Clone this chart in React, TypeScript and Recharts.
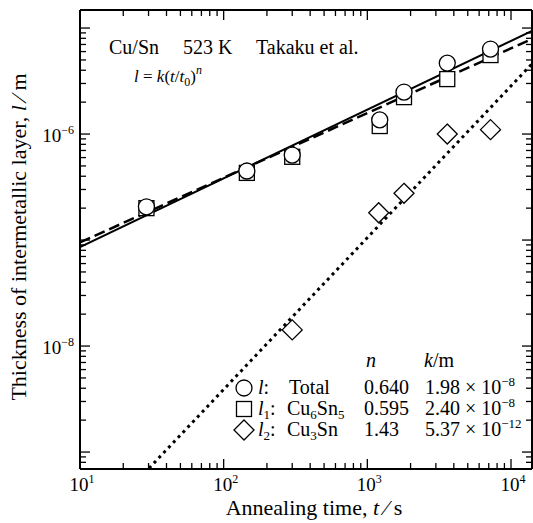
import React from 'react';
import { ComposedChart, Line, Scatter, XAxis, YAxis } from 'recharts';

// annealing times (s) and measured thickness (m)
const times = [29, 145, 300, 1220, 1800, 3600, 7200];
const totalL = [2.06e-7, 4.48e-7, 6.34e-7, 1.36e-6, 2.49e-6, 4.67e-6, 6.34e-6];
const cu6sn5L = [2.0e-7, 4.3e-7, 6.1e-7, 1.19e-6, 2.23e-6, 3.3e-6, 5.56e-6];
const cu3snTimes = [300, 1200, 1800, 3600, 7200];
const cu3snL = [1.42e-8, 1.81e-7, 2.76e-7, 1.0e-6, 1.1e-6];

// fitted power-law lines, end points
const fitTimes = [10, 14000];
const totalFit = [8.6e-8, 9.4e-6];
const cu6sn5Fit = [9.5e-8, 7.9e-6];
const cu3snFitTimes = [28, 14000];
const cu3snFit = [6.3e-10, 4.6e-6];

const xDecades = [10, 100, 1000, 10000];
const yDecades = [1e-9, 1e-8, 1e-7, 1e-6, 1e-5];
const yLabeled = [-8, -6];
const minorSteps = [2, 3, 4, 5, 6, 7, 8, 9];

const X_DOMAIN: [number, number] = [10, 14000];
const Y_DOMAIN: [number, number] = [6.92e-10, 1.48e-5];

const FONT = "'Liberation Serif', 'DejaVu Serif', serif";

const withMinor = (decades: number[], dom: [number, number]) => {
  const out: number[] = [];
  decades.forEach((d) => {
    out.push(d);
    minorSteps.forEach((m) => out.push(d * m));
  });
  [0.8, 0.9].forEach((m) => out.push(decades[0] * m));
  return out.filter((v) => v >= dom[0] && v <= dom[1]).sort((a, b) => a - b);
};

const xTicks = withMinor(xDecades, X_DOMAIN);
const yTicks = withMinor(yDecades, Y_DOMAIN);

const isMajor = (v: number) => {
  const l = Math.log10(v);
  return Math.abs(l - Math.round(l)) < 1e-6;
};

const pts = (xs: number[], ys: number[]) => xs.map((x, i) => ({ x, y: ys[i] }));

const tickStroke = { stroke: '#000', strokeWidth: 1.3 };
const txt = { fontFamily: FONT, fill: '#000' };

const BottomTick = (p: any) => {
  const v = p.payload.value;
  const major = isMajor(v);
  return (
    <g>
      <line x1={p.x} y1={p.y} x2={p.x} y2={p.y - (major ? 10 : 6)} {...tickStroke} />
      {major && (
        <text x={p.x + 2} y={p.y + 22} textAnchor="middle" fontSize={19} style={txt}>
          10<tspan dy={-8} fontSize={12}>{Math.round(Math.log10(v))}</tspan>
        </text>
      )}
    </g>
  );
};

const TopTick = (p: any) => {
  const major = isMajor(p.payload.value);
  return <line x1={p.x} y1={p.y} x2={p.x} y2={p.y + (major ? 10 : 6)} {...tickStroke} />;
};

const LeftTick = (p: any) => {
  const v = p.payload.value;
  const major = isMajor(v);
  const e = Math.round(Math.log10(v));
  return (
    <g>
      <line x1={p.x} y1={p.y} x2={p.x + (major ? 10 : 6)} y2={p.y} {...tickStroke} />
      {major && yLabeled.includes(e) && (
        <text x={p.x - 6} y={p.y + 8} textAnchor="end" fontSize={19} style={txt}>
          10<tspan dy={-8} fontSize={12}>{'\u2212' + Math.abs(e)}</tspan>
        </text>
      )}
    </g>
  );
};

const RightTick = (p: any) => {
  const major = isMajor(p.payload.value);
  return <line x1={p.x} y1={p.y} x2={p.x - (major ? 10 : 6)} y2={p.y} {...tickStroke} />;
};

const mark = { fill: '#fff', stroke: '#000', strokeWidth: 1.3 };
const CircleMark = (p: any) => <circle cx={p.cx} cy={p.cy} r={8} {...mark} />;
const SquareMark = (p: any) => <rect x={p.cx - 7.5} y={p.cy - 7.5} width={15} height={15} {...mark} />;
const DiamondMark = (p: any) => (
  <polygon points={`${p.cx},${p.cy - 10} ${p.cx + 10},${p.cy} ${p.cx},${p.cy + 10} ${p.cx - 10},${p.cy}`} {...mark} />
);

const axisLine = { stroke: '#000', strokeWidth: 2 };

export default function App() {
  return (
    <div style={{ position: 'absolute', left: 0, top: 0, width: 533, height: 523, background: '#fff' }}>
      <ComposedChart width={533} height={523} margin={{ top: 0, right: 0, bottom: 0, left: 0 }}>
        <XAxis xAxisId="b" type="number" dataKey="x" scale="log" domain={X_DOMAIN} allowDataOverflow
          ticks={xTicks} interval={0} tick={BottomTick} tickLine={false} tickSize={0} tickMargin={0}
          height={54} axisLine={axisLine} />
        <XAxis xAxisId="t" orientation="top" type="number" dataKey="x" scale="log" domain={X_DOMAIN} allowDataOverflow
          ticks={xTicks} interval={0} tick={TopTick} tickLine={false} tickSize={0} tickMargin={0}
          height={10} axisLine={axisLine} />
        <YAxis yAxisId="l" type="number" scale="log" domain={Y_DOMAIN} allowDataOverflow
          ticks={yTicks} interval={0} tick={LeftTick} tickLine={false} tickSize={0} tickMargin={0}
          width={80} axisLine={axisLine} />
        <YAxis yAxisId="r" orientation="right" type="number" scale="log" domain={Y_DOMAIN} allowDataOverflow
          ticks={yTicks} interval={0} tick={RightTick} tickLine={false} tickSize={0} tickMargin={0}
          width={1} axisLine={axisLine} />

        <Line xAxisId="b" yAxisId="l" data={pts(fitTimes, totalFit)} dataKey="y" stroke="#000" strokeWidth={2}
          dot={false} activeDot={false} isAnimationActive={false} />
        <Line xAxisId="b" yAxisId="l" data={pts(fitTimes, cu6sn5Fit)} dataKey="y" stroke="#000" strokeWidth={2.5}
          strokeDasharray="11 5" dot={false} activeDot={false} isAnimationActive={false} />
        <Line xAxisId="b" yAxisId="l" data={pts(cu3snFitTimes, cu3snFit)} dataKey="y" stroke="#000" strokeWidth={3}
          strokeDasharray="3 4" dot={false} activeDot={false} isAnimationActive={false} />

        <Scatter xAxisId="b" yAxisId="l" data={pts(times, cu6sn5L)} dataKey="y" shape={SquareMark} isAnimationActive={false} />
        <Scatter xAxisId="b" yAxisId="l" data={pts(times, totalL)} dataKey="y" shape={CircleMark} isAnimationActive={false} />
        <Scatter xAxisId="b" yAxisId="l" data={pts(cu3snTimes, cu3snL)} dataKey="y" shape={DiamondMark} isAnimationActive={false} />
      </ComposedChart>

      <svg width={533} height={523} style={{ position: 'absolute', left: 0, top: 0, pointerEvents: 'none', fontFamily: FONT }}
        fill="#000">
        <text y={54} fontSize={20} style={txt}>
          <tspan x={109}>Cu/Sn</tspan>
          <tspan x={183}>523 K</tspan>
          <tspan x={256}>Takaku et al.</tspan>
        </text>
        <text x={134} y={82} fontSize={17} style={txt}>
          <tspan fontStyle="italic">l</tspan> = <tspan fontStyle="italic">k</tspan>(<tspan fontStyle="italic">t</tspan>/<tspan fontStyle="italic">t</tspan>
          <tspan dy={4} fontSize={12}>0</tspan><tspan dy={-4}>)</tspan>
          <tspan dy={-8} fontSize={12} fontStyle="italic">n</tspan>
        </text>

        {/* legend table */}
        <text x={366} y={367} fontSize={20} fontStyle="italic" style={txt}>n</text>
        <text x={424} y={367} fontSize={20} style={txt}><tspan fontStyle="italic">k</tspan>/m</text>

        <circle cx={244} cy={388} r={8} {...mark} />
        <text x={258} y={394} fontSize={20} style={txt}><tspan fontStyle="italic">l</tspan>:</text>
        <text x={289} y={394} fontSize={20} style={txt}>Total</text>
        <text x={364} y={394} fontSize={20} style={txt}>0.640</text>
        <text x={425} y={394} fontSize={20} style={txt}>1.98 × 10<tspan dy={-8} fontSize={13}>−8</tspan></text>

        <rect x={236.5} y={401.5} width={15} height={15} {...mark} />
        <text x={258} y={415} fontSize={20} style={txt}><tspan fontStyle="italic">l</tspan><tspan dy={4} fontSize={13}>1</tspan><tspan dy={-4}>:</tspan></text>
        <text x={287} y={415} fontSize={20} style={txt}>Cu<tspan dy={4} fontSize={13}>6</tspan><tspan dy={-4}>Sn</tspan><tspan dy={4} fontSize={13}>5</tspan></text>
        <text x={364} y={415} fontSize={20} style={txt}>0.595</text>
        <text x={425} y={415} fontSize={20} style={txt}>2.40 × 10<tspan dy={-8} fontSize={13}>−8</tspan></text>

        <polygon points="244,420 254,430 244,440 234,430" {...mark} />
        <text x={258} y={436} fontSize={20} style={txt}><tspan fontStyle="italic">l</tspan><tspan dy={4} fontSize={13}>2</tspan><tspan dy={-4}>:</tspan></text>
        <text x={287} y={436} fontSize={20} style={txt}>Cu<tspan dy={4} fontSize={13}>3</tspan><tspan dy={-4}>Sn</tspan></text>
        <text x={364} y={436} fontSize={20} style={txt}>1.43</text>
        <text x={425} y={436} fontSize={20} style={txt}>5.37 × 10<tspan dy={-8} fontSize={13}>−12</tspan></text>

        <text x={314} y={515} fontSize={22} textAnchor="middle" style={txt}>
          Annealing time, <tspan fontStyle="italic">t</tspan> ⁄ s
        </text>
        <text transform="translate(26,237) rotate(-90)" fontSize={22} textAnchor="middle" style={txt}>
          Thickness of intermetallic layer, <tspan fontStyle="italic">l</tspan> ⁄ m
        </text>
      </svg>
    </div>
  );
}
